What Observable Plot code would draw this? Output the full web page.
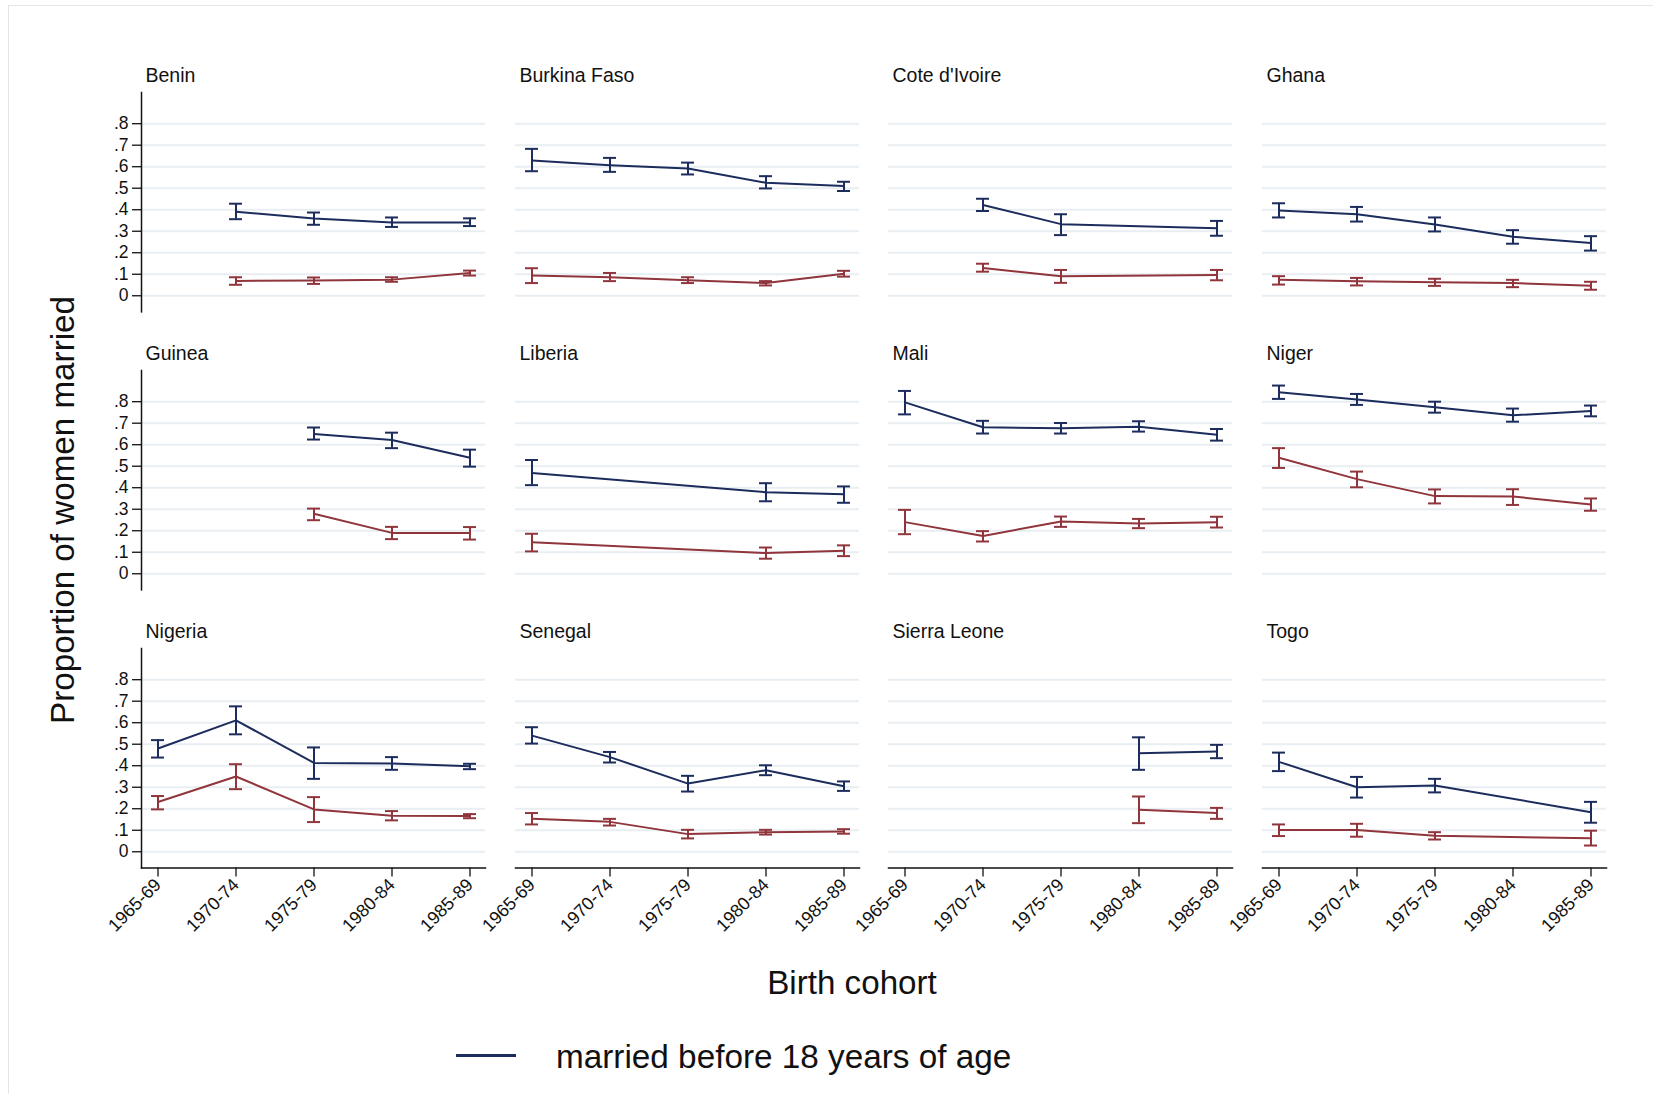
<!DOCTYPE html>
<html><head><meta charset="utf-8">
<script src="https://cdn.jsdelivr.net/npm/d3@7"></script>
<script src="https://cdn.jsdelivr.net/npm/@observablehq/plot@0.6"></script>
<style>
body{margin:0;background:#fff;}
#wrap{position:relative;width:1653px;height:1094px;overflow:hidden;background:#fff;font-family:"Liberation Sans",Arial,Helvetica,sans-serif;color:#111;}
.panel{position:absolute;}
.border{position:absolute;left:8px;top:5px;width:1700px;height:1200px;border:1px solid #e6e6e6;box-sizing:border-box;}
.ytitle{position:absolute;left:63px;top:510px;transform:translate(-50%,-50%) rotate(-90deg);font-size:33.2px;white-space:nowrap;line-height:1;}
.xtitle{position:absolute;left:852px;top:966px;transform:translateX(-50%);font-size:33.2px;white-space:nowrap;line-height:1;}
.leg-line{position:absolute;left:456px;top:1053.5px;width:60px;height:3px;background:#1c2c5c;}
.leg-text{position:absolute;left:556px;top:1040px;font-size:33.3px;white-space:nowrap;line-height:1;}
</style></head><body><div id="wrap"><div class="border"></div></div>
<script>
// ---------- data ----------
const cohorts = ["1965-69", "1970-74", "1975-79", "1980-84", "1985-89"];
const countries = ["Benin", "Burkina Faso", "Cote d'Ivoire", "Ghana", "Guinea", "Liberia", "Mali", "Niger", "Nigeria", "Senegal", "Sierra Leone", "Togo"];
const yTicks = [0, 0.1, 0.2, 0.3, 0.4, 0.5, 0.6, 0.7, 0.8];
const yTickLabels = ["0", ".1", ".2", ".3", ".4", ".5", ".6", ".7", ".8"];
const seriesNames = ["married before 18 years of age", "married before 15 years of age"];

// proportion married before 18 (rows = countries, cols = cohorts)
const before18 = [
  [null, .391, .359, .341, .341],
  [.629, .607, .592, .525, .510],
  [null, .422, .333, null, .314],
  [.396, .379, .331, .274, .245],
  [null, null, .650, .622, .539],
  [.469, null, null, .379, .370],
  [.797, .681, .676, .684, .646],
  [.844, .810, .774, .737, .757],
  [.480, .611, .413, .410, .398],
  [.540, .440, .317, .379, .305],
  [null, null, null, .458, .466],
  [.418, .300, .308, null, .184]
];
const before18Lo = [
  [null, .356, .330, .320, .324],
  [.579, .576, .564, .499, .487],
  [null, .394, .282, null, .279],
  [.364, .345, .299, .242, .210],
  [null, null, .624, .584, .498],
  [.412, null, null, .337, .330],
  [.741, .652, .652, .661, .619],
  [.813, .785, .749, .707, .732],
  [.438, .546, .339, .381, .384],
  [.503, .415, .280, .356, .283],
  [null, null, null, .381, .435],
  [.375, .252, .276, null, .135]
];
const before18Hi = [
  [null, .428, .387, .364, .360],
  [.683, .641, .619, .556, .530],
  [null, .451, .379, null, .348],
  [.430, .413, .364, .305, .277],
  [null, null, .680, .656, .577],
  [.529, null, null, .421, .406],
  [.850, .711, .701, .709, .673],
  [.875, .836, .800, .768, .782],
  [.519, .676, .485, .440, .409],
  [.579, .464, .353, .402, .327],
  [null, null, null, .532, .497],
  [.461, .348, .339, null, .232]
];
// proportion married before 15
const before15 = [
  [null, .069, .071, .075, .106],
  [.094, .086, .072, .059, .102],
  [null, .129, .091, null, .097],
  [.074, .068, .063, .059, .046],
  [null, null, .279, .190, .190],
  [.146, null, null, .096, .107],
  [.240, .176, .243, .234, .240],
  [.539, .440, .361, .359, .322],
  [.231, .350, .197, .167, .166],
  [.153, .139, .082, .091, .094],
  [null, null, null, .195, .180],
  [.101, .101, .074, null, .063]
];
const before15Lo = [
  [null, .051, .055, .065, .094],
  [.059, .068, .059, .048, .089],
  [null, .112, .060, null, .072],
  [.052, .048, .046, .040, .028],
  [null, null, .249, .161, .159],
  [.104, null, null, .070, .082],
  [.184, .150, .218, .212, .215],
  [.492, .402, .327, .320, .293],
  [.197, .291, .138, .146, .156],
  [.127, .122, .062, .080, .084],
  [null, null, null, .133, .153],
  [.073, .070, .057, null, .029]
];
const before15Hi = [
  [null, .086, .085, .086, .117],
  [.128, .106, .086, .068, .116],
  [null, .149, .120, null, .120],
  [.091, .083, .079, .074, .065],
  [null, null, .303, .218, .217],
  [.186, null, null, .122, .132],
  [.297, .198, .266, .255, .265],
  [.584, .475, .392, .393, .350],
  [.259, .407, .254, .189, .175],
  [.180, .153, .102, .102, .105],
  [null, null, null, .257, .204],
  [.127, .130, .091, null, .098]
];

// ---------- build table ----------
const rows = [];
countries.forEach((country, k) => {
  cohorts.forEach((cohort, j) => {
    if (before18[k][j] != null) rows.push({country, cohort, series: seriesNames[0], v: before18[k][j], lo: before18Lo[k][j], hi: before18Hi[k][j]});
    if (before15[k][j] != null) rows.push({country, cohort, series: seriesNames[1], v: before15[k][j], lo: before15Lo[k][j], hi: before15Hi[k][j]});
  });
});

const NAVY = "#1c2c5c", MAROON = "#90353b", GRID = "#e8eef2", INK = "#111";
const FONT = "'Liberation Sans', Arial, Helvetica, sans-serif";
const PW = 344, PH = 219.4;
const colLeft = [141, 514.5, 888, 1261.5];
const rowTop = [91.7, 370.0, 648.3];
const wrap = document.getElementById("wrap");

countries.forEach((country, k) => {
  const r = Math.floor(k / 4), c = k % 4;
  const ml = c === 0 ? 70 : 10, mr = 10, mt = 40, mb = r === 2 ? 90 : 10;
  const data = rows.filter(d => d.country === country);
  const marks = [
    Plot.gridY(yTicks, {stroke: GRID, strokeOpacity: 1, strokeWidth: 2})
  ];
  if (c === 0) {
    marks.push(
      Plot.axisY(yTicks, {tickFormat: d => yTickLabels[yTicks.indexOf(d)], tickSize: 9, tickPadding: 4, fontSize: 17.5, color: INK, strokeWidth: 1.3, label: null}),
      Plot.frame({anchor: "left", stroke: INK, strokeWidth: 1.5})
    );
  }
  if (r === 2) {
    marks.push(
      Plot.axisX({tickRotate: -45, tickSize: 9, tickPadding: 5, fontSize: 18, color: INK, strokeWidth: 1.3, label: null}),
      Plot.frame({anchor: "bottom", stroke: INK, strokeWidth: 1.5})
    );
  }
  marks.push(
    Plot.ruleX(data, {x: "cohort", y1: "lo", y2: "hi", stroke: "series", strokeWidth: 2}),
    Plot.tickY(data, {x: "cohort", y: "lo", stroke: "series", strokeWidth: 2}),
    Plot.tickY(data, {x: "cohort", y: "hi", stroke: "series", strokeWidth: 2}),
    Plot.line(data, {x: "cohort", y: "v", z: "series", stroke: "series", strokeWidth: 2}),
    Plot.text([country], {text: d => d, frameAnchor: "top-left", dx: 4, dy: -10, lineAnchor: "bottom", textAnchor: "start", fontSize: 19.5, fill: INK})
  );
  const chart = Plot.plot({
    width: ml + PW + mr,
    height: mt + PH + mb,
    marginLeft: ml, marginRight: mr, marginTop: mt, marginBottom: mb,
    x: {type: "band", domain: cohorts, paddingInner: 0.834, paddingOuter: 0.117, axis: r === 2 ? undefined : null, label: null},
    y: {domain: [-0.075, 0.945], axis: c === 0 ? undefined : null, label: null},
    color: {domain: seriesNames, range: [NAVY, MAROON]},
    style: {fontFamily: FONT, background: "transparent", overflow: "visible", color: INK},
    marks
  });
  chart.classList.add("panel");
  chart.style.left = (colLeft[c] - ml) + "px";
  chart.style.top = (rowTop[r] - mt) + "px";
  chart.style.maxWidth = "none";
  wrap.appendChild(chart);
});

const yt = document.createElement("div"); yt.className = "ytitle"; yt.textContent = "Proportion of women married"; wrap.appendChild(yt);
const xt = document.createElement("div"); xt.className = "xtitle"; xt.textContent = "Birth cohort"; wrap.appendChild(xt);
const ll = document.createElement("div"); ll.className = "leg-line"; wrap.appendChild(ll);
const lt = document.createElement("div"); lt.className = "leg-text"; lt.textContent = seriesNames[0]; wrap.appendChild(lt);
</script></body></html>
